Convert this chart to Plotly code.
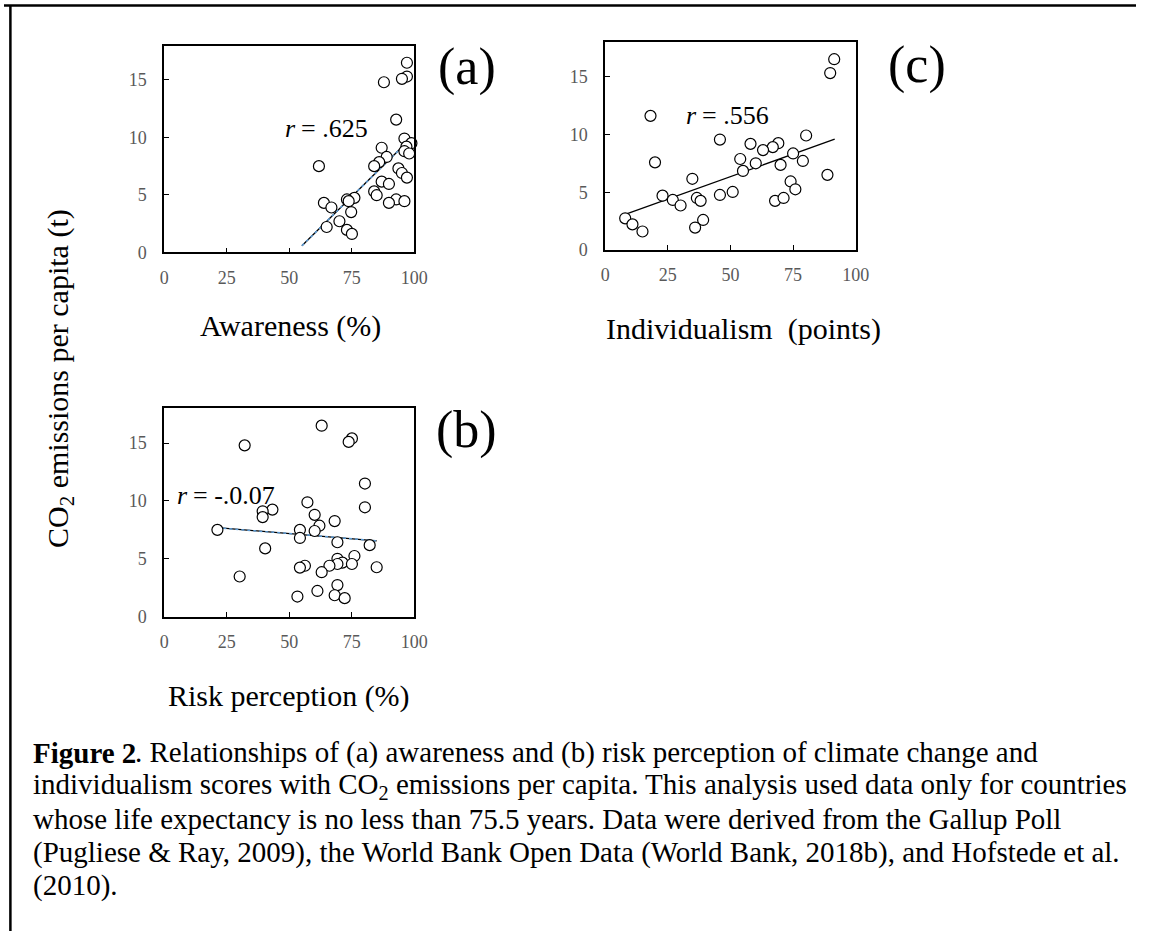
import plotly.graph_objects as go

W, H = 1150, 941

# ---- data ----
aware_x = [97.1, 97.1, 95.1, 87.9, 92.8, 96.1, 98.9, 96.9, 87.0, 96.1, 98.0, 89.0, 86.0, 84.0, 61.9,
           93.7, 95.1, 97.1, 87.0, 89.9, 84.0, 85.0, 76.1, 73.1, 92.8, 96.1, 89.9, 63.9, 66.9, 74.8,
           70.1, 65.0, 73.1, 75.1, 73.8]
aware_y = [16.5, 15.3, 15.1, 14.8, 11.55, 9.9, 9.5, 9.2, 9.1, 8.8, 8.6, 8.3, 7.85, 7.5, 7.5,
           7.3, 6.9, 6.5, 6.15, 5.95, 5.3, 4.97, 4.74, 4.6, 4.6, 4.45, 4.3, 4.3, 3.9, 3.5,
           2.7, 2.2, 1.95, 1.6, 4.45]
trend_a_x = [55.1, 98.9]
trend_a_y = [0.57, 9.97]

indiv_x = [91.4, 89.8, 18.1, 45.8, 80.2, 58.0, 69.1, 66.9, 63.0, 75.0, 53.9, 78.9, 19.9, 60.1, 70.0,
           55.0, 88.7, 34.8, 74.0, 75.9, 50.9, 45.8, 22.9, 36.6, 27.0, 38.1, 67.8, 71.2, 30.1, 8.0,
           10.9, 39.1, 35.9, 14.9]
indiv_y = [16.5, 15.3, 11.6, 9.55, 9.9, 9.18, 9.24, 8.9, 8.64, 8.35, 7.87, 7.7, 7.58, 7.5, 7.36,
           6.84, 6.5, 6.16, 5.93, 5.25, 5.02, 4.76, 4.7, 4.5, 4.33, 4.25, 4.25, 4.5, 3.85, 2.74,
           2.22, 2.6, 1.94, 1.6]
trend_c_x = [8.0, 91.6]
trend_c_y = [3.08, 9.58]

risk_x = [63.0, 75.1, 73.8, 32.2, 80.3, 80.3, 57.3, 43.3, 39.4, 39.4, 60.2, 68.2, 62.1, 54.3, 60.2,
          21.3, 54.3, 69.3, 82.2, 40.4, 76.1, 69.3, 71.3, 69.3, 75.1, 66.1, 56.3, 54.3, 85.0, 63.0,
          30.2, 69.3, 61.3, 68.2, 53.3, 72.2]
risk_y = [16.5, 15.4, 15.1, 14.8, 11.5, 9.45, 9.88, 9.25, 9.1, 8.6, 8.8, 8.26, 7.86, 7.5, 7.4,
          7.5, 6.8, 6.43, 6.18, 5.9, 5.24, 5.0, 4.67, 4.55, 4.55, 4.4, 4.4, 4.24, 4.27, 3.84,
          3.47, 2.73, 2.22, 1.85, 1.74, 1.6]
trend_b_x = [21.3, 85.0]
trend_b_y = [7.69, 6.55]

x_ticks = [0, 25, 50, 75, 100]
y_ticks = [0, 5, 10, 15]

r_labels = ["= .625", "= .556", "= -.0.07"]

FONT = "Liberation Serif, Times New Roman, serif"


def px(x):
    return x / W


def py(y):
    return 1 - y / H


fig = go.Figure()

marker = dict(symbol="circle", size=11, color="white", line=dict(color="black", width=1.2))


def add_panel(xs, ys, tx, ty, xa, ya, blue):
    fig.add_trace(go.Scatter(x=tx, y=ty, mode="lines", xaxis=xa, yaxis=ya,
                             line=dict(color="black", width=1.3), showlegend=False,
                             hoverinfo="skip"))
    if blue:
        fig.add_trace(go.Scatter(x=tx, y=ty, mode="lines", xaxis=xa, yaxis=ya,
                                 line=dict(color="#5B9BD5", width=1.5, dash="dot"),
                                 showlegend=False, hoverinfo="skip"))
    fig.add_trace(go.Scatter(x=xs, y=ys, mode="markers", xaxis=xa, yaxis=ya, marker=marker,
                             showlegend=False, cliponaxis=False))


add_panel(aware_x, aware_y, trend_a_x, trend_a_y, "x", "y", True)
add_panel(indiv_x, indiv_y, trend_c_x, trend_c_y, "x2", "y2", False)
add_panel(risk_x, risk_y, trend_b_x, trend_b_y, "x3", "y3", True)

common_x = dict(range=[0, 100], tickvals=x_ticks, showline=True, mirror=True, linecolor="black",
                linewidth=1.5, ticks="inside", ticklen=5, tickcolor="black", showgrid=False,
                zeroline=False, tickfont=dict(family=FONT, size=18, color="#595959"),
                ticklabelstandoff=8, fixedrange=True)
common_y = dict(range=[0, 18], tickvals=y_ticks, showline=True, mirror=True, linecolor="black",
                linewidth=1.5, ticks="inside", ticklen=5, tickcolor="black", showgrid=False,
                zeroline=False, tickfont=dict(family=FONT, size=18, color="#595959"),
                ticklabelstandoff=12, fixedrange=True)

fig.update_layout(
    width=W, height=H, autosize=False,
    margin=dict(l=0, r=0, t=0, b=0),
    paper_bgcolor="white", plot_bgcolor="white",
    font=dict(family=FONT, color="black"),
    xaxis=dict(domain=[px(162.7), px(416.7)], anchor="y", **common_x),
    yaxis=dict(domain=[py(255), py(46)], anchor="x", **common_y),
    xaxis2=dict(domain=[px(610.7), px(865.3)], anchor="y2", **common_x),
    yaxis2=dict(domain=[py(252.7), py(42.3)], anchor="x2", **common_y),
    xaxis3=dict(domain=[px(162.7), px(416.7)], anchor="y3", **common_x),
    yaxis3=dict(domain=[py(623.3), py(412.7)], anchor="x3", **common_y),
)


def note(x, y, text, size, xanchor="center", yanchor="middle", style="normal",
         weight="normal", angle=0):
    fig.add_annotation(x=px(x), y=py(y), xref="paper", yref="paper", text=text,
                       showarrow=False, xanchor=xanchor, yanchor=yanchor, textangle=angle,
                       font=dict(family=FONT, size=size, color="black", style=style,
                                 weight=weight))


# panel labels
for txt, xx, yy in [("(a)", 470, 36), ("(c)", 928, 34), ("(b)", 470, 403)]:
    note(xx, yy, txt, 52, yanchor="top")

# correlation labels: italic r followed by the value
R_SIZE = 26
for lab, (start, yy) in zip(r_labels, [(283, 130), (690.5, 116.5), (173.5, 500.5)]):
    note(start, yy, "r", R_SIZE, xanchor="left", style="italic")
    note(start + (0.389 + 0.25) * R_SIZE, yy, lab, R_SIZE, xanchor="left")

# axis titles
note(291, 329, "Awareness (%)", 30)
note(751, 333, "Individualism  (points)", 30)
note(290, 703, "Risk perception (%)", 30)
note(57, 383, "CO<sub>2</sub> emissions per capita (t)", 30, angle=-90)

# caption
CAP = 29
cap_x = 27
cap_y = [761, 794.5, 828, 861.5, 895]
note(cap_x, cap_y[0], "Figure 2", CAP, xanchor="left", weight="bold")
note(cap_x + 3.583 * CAP, cap_y[0],
     ". Relationships of (a) awareness and (b) risk perception of climate change and",
     CAP, xanchor="left")
rest = [
    "individualism scores with CO<sub>2</sub> emissions per capita. This analysis used data only for countries",
    "whose life expectancy is no less than 75.5 years. Data were derived from the Gallup Poll",
    "(Pugliese & Ray, 2009), the World Bank Open Data (World Bank, 2018b), and Hofstede et al.",
    "(2010).",
]
for t, yy in zip(rest, cap_y[1:]):
    note(cap_x, yy, t, CAP, xanchor="left")

# outer frame (top and left edges)
fig.add_shape(type="line", xref="paper", yref="paper", x0=0, x1=1, y0=py(5.5), y1=py(5.5),
              line=dict(color="black", width=2.5))
fig.add_shape(type="line", xref="paper", yref="paper", x0=px(6.5), x1=px(6.5), y0=0, y1=py(5.5),
              line=dict(color="black", width=2.5))

fig.write_html("out.html")
